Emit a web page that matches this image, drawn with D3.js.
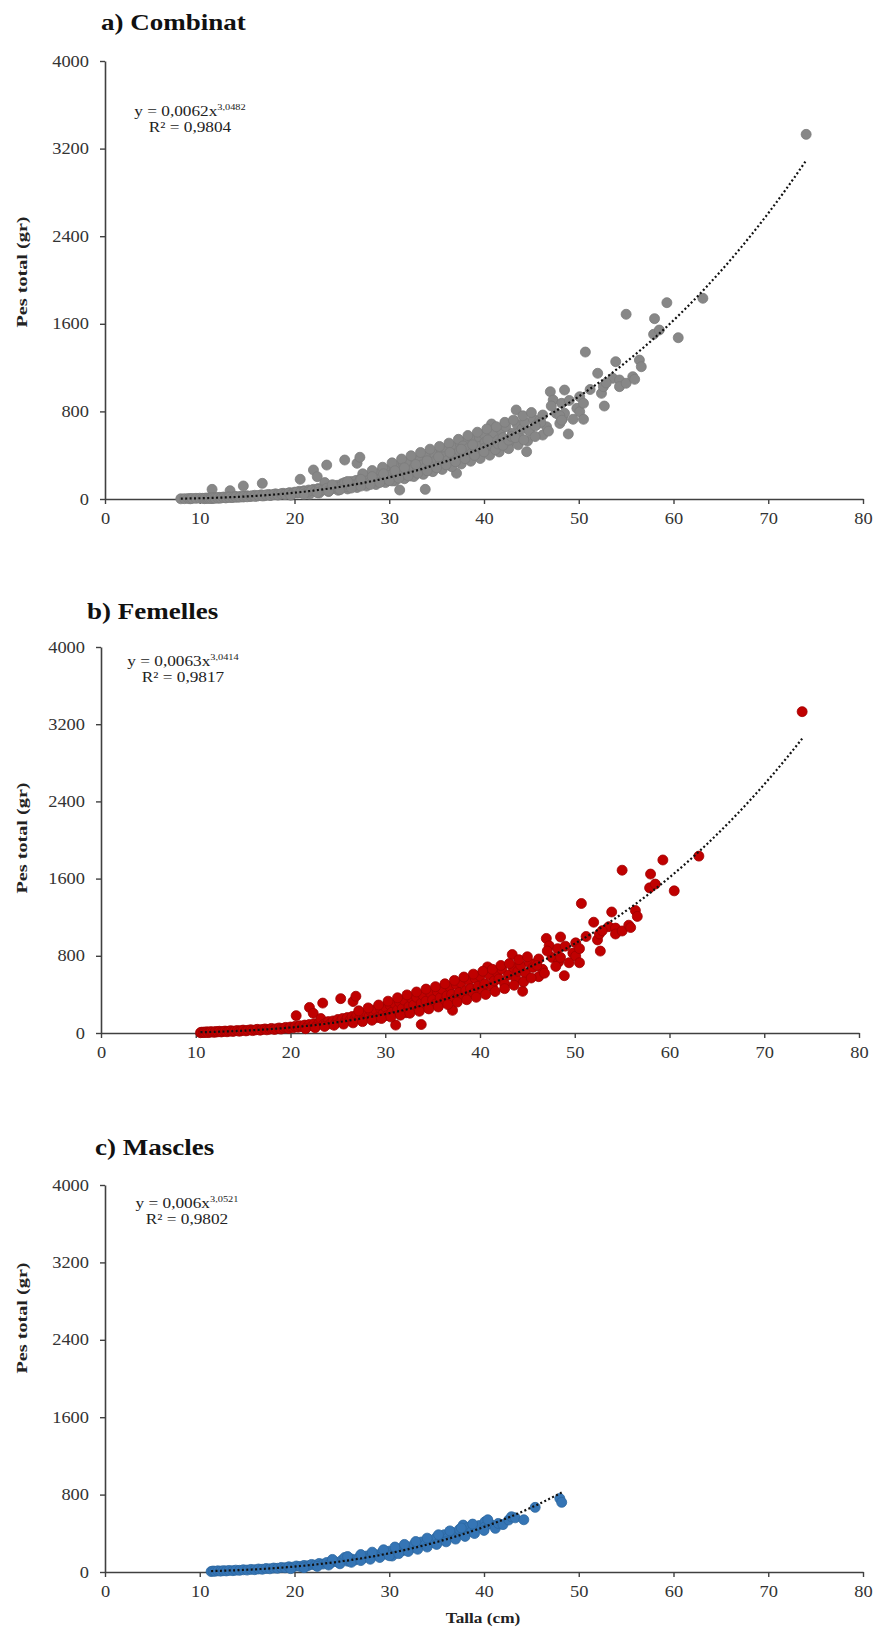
<!DOCTYPE html>
<html>
<head>
<meta charset="utf-8">
<script src="https://cdn.jsdelivr.net/npm/d3@7"></script>
<style>
  body { margin: 0; background: #fff; }
  svg { display: block; }
</style>
</head>
<body>
<svg id="chart" width="875" height="1630"></svg>
<script>
// axis ticks
const xTicks = [0, 10, 20, 30, 40, 50, 60, 70, 80];
const yTicks = [0, 800, 1600, 2400, 3200, 4000];

// [talla cm, pes g]
const females = [
  [10.5,3],[10.6,8],[10.8,5],[10.9,10],[11.0,6],[11.2,12],[11.3,4],[11.5,9],[11.6,14],[11.8,10],
  [12.0,7],[12.1,15],[12.3,12],[12.5,18],[12.7,11],[12.9,16],[13.1,20],[13.3,13],[13.5,19],[13.7,24],
  [13.9,16],[14.1,21],[14.4,26],[14.6,18],[14.8,24],[15.0,30],[15.3,22],[15.5,28],[15.8,34],[16.0,25],
  [16.3,32],[16.5,38],[16.8,29],[17.0,36],[17.3,42],[17.5,33],[17.8,40],[18.0,47],[18.3,37],[18.5,44],
  [18.8,52],[19.0,41],[19.3,50],[19.5,58],[19.8,47],[20.0,62],[20.3,54],[20.5,70],[20.6,180],[20.8,60],
  [21.0,75],[21.3,66],[21.5,82],[21.8,70],[22.0,265],[22.0,88],[22.3,75],[22.4,204],[22.5,95],[22.8,80],
  [23.0,100],[23.2,150],[23.4,310],[23.5,90],[23.8,108],[24.0,118],[24.2,95],[24.5,125],[24.8,105],[25.0,140],
  [25.3,356],[25.3,118],[25.5,150],[25.8,125],[26.0,160],[26.3,135],[26.6,326],[26.5,170],[26.9,381],[26.8,145],
  [27.0,185],[27.3,150],[27.5,195],[27.8,165],[28.0,210],[28.3,175],[28.5,225],[28.8,190],[29.0,240],[29.2,160],
  [29.5,255],[29.8,205],[30.0,270],[30.2,180],[30.5,290],[30.7,215],[31.0,305],[31.1,82],[31.3,240],[31.5,320],
  [31.8,255],[32.0,340],[32.2,210],[32.5,275],[32.8,355],[33.0,290],[33.3,370],[33.5,245],[33.8,88],[33.8,310],
  [34.0,390],[34.3,330],[34.5,260],[34.8,410],[35.0,345],[35.3,300],[35.5,430],[35.8,365],[36.0,455],[36.2,320],
  [36.5,385],[36.8,480],[37.0,400],[37.1,235],[37.3,350],[37.5,500],[37.8,420],[38.0,520],[38.3,380],[38.5,440],
  [38.8,545],[39.0,460],[39.3,410],[39.5,565],[39.8,485],[40.0,590],[40.3,440],[40.5,510],[40.8,685],[41.0,600],
  [41.3,480],[41.5,540],[41.8,630],[42.0,560],[42.3,660],[42.6,510],[43.0,600],[43.4,813],[43.5,680],[43.8,560],
  [44.0,640],[44.3,700],[44.5,432],[44.8,620],[45.2,730],[45.6,680],[45.9,721],[46.2,767],[46.2,584],[46.6,660],
  [47.0,980],[47.3,904],[47.6,783],[48.2,874],[48.3,737],[48.5,995],[48.5,783],[48.9,594],[49.4,728],[49.8,828],
  [50.1,934],[50.1,797],[50.5,874],[50.5,728],[50.7,1342],[52.0,1148],[52.4,965],[52.6,1026],[52.7,849],[53.6,1102],
  [53.9,1254],[54.3,1087],[54.3,1026],[55.0,1057],[55.0,1687],[55.7,1117],[55.9,1093],[56.4,1269],[56.6,1208],[57.9,1504],
  [58.0,1647],[58.5,1543],[59.3,1793],[60.5,1473],[63.1,1833],[74.0,3330],
  // lower and upper edge of the dense band
  [21.6,45],[22.6,55],[23.6,68],[24.6,80],[25.6,92],[26.6,105],[27.6,118],[28.6,132],[29.6,150],[30.6,165],
  [31.6,185],[32.6,205],[33.6,225],[34.6,250],[35.6,270],[36.6,295],[37.6,320],[38.6,345],[39.6,370],[40.6,400],
  [41.6,430],[42.6,460],[43.6,495],[44.6,530],[45.4,570],
  [27.2,230],[28.2,260],[29.3,290],[30.3,330],[31.3,365],[32.3,395],[33.3,425],[34.3,455],[35.3,480],[36.3,510],
  [37.3,545],[38.3,580],[39.3,610],[40.3,640],[41.3,660],[42.2,700],[43.1,720],[44.1,760],[45.0,790],[46.0,700],
  [47.1,850],[49.0,900],[51.2,1000],[52.9,1060],[46.8,620],[48.0,690]
];

const males = [
  [11.2,5],[11.4,10],[11.6,7],[11.9,12],[12.2,9],[12.5,14],[12.8,11],[13.1,16],[13.5,14],[13.8,19],
  [14.2,17],[14.6,23],[15.0,20],[15.4,27],[15.8,24],[16.2,31],[16.6,28],[17.0,36],[17.4,33],[17.8,41],
  [18.2,38],[18.6,47],[19.0,44],[19.4,54],[19.8,50],[20.2,62],[20.6,57],[21.0,68],[21.4,64],[21.8,78],
  [22.2,72],[22.6,88],[23.0,82],[23.4,98],[23.8,92],[24.2,108],[24.6,100],[25.0,122],[25.3,150],[25.6,112],
  [26.0,135],[26.4,125],[26.8,150],[27.2,140],[27.6,165],[28.0,155],[28.4,182],[28.8,170],[29.2,200],[29.6,185],
  [30.0,215],[30.3,165],[30.6,205],[31.0,240],[31.4,220],[31.8,262],[32.2,240],[32.6,285],[33.0,262],[33.4,310],
  [33.8,285],[34.2,335],[34.6,305],[35.0,360],[35.4,330],[35.8,385],[36.2,355],[36.6,410],[37.0,375],[37.4,440],
  [37.8,485],[37.9,400],[38.3,460],[38.7,420],[39.1,451],[39.5,480],[40.1,519],[40.1,467],[40.6,500],[41.2,451],
  [41.5,502],[42.0,490],[42.6,537],[42.9,571],[43.3,560],[44.2,540],[45.4,668],[48.0,760],[48.2,720],
  // edges of the band
  [19.6,35],[21.0,45],[22.4,58],[23.6,72],[24.8,85],[26.0,100],[27.0,118],[28.0,132],[29.0,150],[30.0,168],
  [31.0,190],[32.0,212],[33.0,235],[34.0,258],[35.0,285],[36.0,312],[37.0,340],[38.0,368],[39.0,398],[40.0,430],
  [24.0,130],[25.6,160],[27.0,180],[28.2,205],[29.4,230],[30.6,258],[31.6,285],[32.8,315],[34.0,350],[35.2,385],
  [36.4,425],[37.6,455],[38.8,495],[40.4,540]
];

// small fish without sex, only in the combined plot
const unsexed = [
  [8.0,2],[8.4,3],[8.8,4],[9.0,2],[9.2,5],[9.6,6],[10.0,7],[10.3,6],
  [11.3,88],[13.2,76],[14.6,119],[16.6,143]
];

const combined = unsexed.concat(females, males);

const SX = 1.15; // the source image is a little wider than tall

const panels = [
  { title: 'a) Combinat', pts: combined, a: 0.0062, b: 3.0482, eqA: '0,0062', eqB: '3,0482', r2: '0,9804',
    fill: '#878787', stroke: '#7c7c7c', left: 105, top: 61, bottom: 499, titleX: 101, titleY: 30,
    eqX: 190, eqY: 116, labY: 272 },
  { title: 'b) Femelles', pts: females, a: 0.0063, b: 3.0414, eqA: '0,0063', eqB: '3,0414', r2: '0,9817',
    fill: '#c00000', stroke: '#9e0000', left: 101, top: 647, bottom: 1033, titleX: 87, titleY: 619,
    eqX: 183, eqY: 666, labY: 838 },
  { title: 'c) Mascles', pts: males, a: 0.006, b: 3.0521, eqA: '0,006', eqB: '3,0521', r2: '0,9802',
    fill: '#3575b5', stroke: '#2c679f', left: 105, top: 1185, bottom: 1572, titleX: 95, titleY: 1155,
    eqX: 187, eqY: 1208, labY: 1318 }
];

const svg = d3.select('#chart');

function stretchText(sel, x, y) {
  return sel.attr('transform', `translate(${x},${y}) scale(${SX},1)`);
}

panels.forEach((p, i) => {
  const x = d3.scaleLinear().domain([0, 80]).range([p.left, p.left + 758]);
  const y = d3.scaleLinear().domain([0, 4000]).range([p.bottom, p.top]);
  const g = svg.append('g');

  // title
  stretchText(g.append('text'), p.titleX, p.titleY)
    .attr('font-family', '"Liberation Serif", "Times New Roman", serif')
    .attr('font-weight', 'bold')
    .attr('font-size', 23.5)
    .attr('fill', '#111')
    .text(p.title);

  // y axis
  const ya = g.append('g')
    .attr('transform', `translate(${p.left},0)`)
    .call(d3.axisLeft(y).tickValues(yTicks).tickSize(5).tickSizeOuter(0).tickPadding(11).tickFormat(d3.format('d')));
  ya.selectAll('text')
    .attr('font-family', '"Liberation Serif", serif')
    .attr('font-size', 16)
    .attr('fill', '#333')
    .attr('x', -16 / SX)
    .attr('transform', `scale(${SX},1)`);

  // x axis
  const xa = g.append('g')
    .attr('transform', `translate(0,${p.bottom})`)
    .call(d3.axisBottom(x).tickValues(xTicks).tickSize(5).tickSizeOuter(0).tickPadding(9));
  xa.selectAll('text')
    .attr('font-family', '"Liberation Serif", serif')
    .attr('font-size', 16)
    .attr('fill', '#333')
    .attr('transform', `scale(${SX},1)`);

  [ya, xa].forEach(a => {
    a.select('.domain').attr('stroke', '#404040').attr('stroke-width', 1.6);
    a.selectAll('.tick line').attr('stroke', '#404040').attr('stroke-width', 1.4);
  });

  // y label, drawn long and narrow like the source
  g.append('text')
    .attr('transform', `translate(22,${p.labY}) rotate(-90) scale(1.35,1)`)
    .attr('text-anchor', 'middle')
    .attr('dy', '0.35em')
    .attr('font-family', '"Liberation Serif", serif')
    .attr('font-weight', 'bold')
    .attr('font-size', 15)
    .attr('fill', '#222')
    .text('Pes total (gr)');

  // points
  g.append('g').selectAll('circle')
    .data(p.pts)
    .join('circle')
    .attr('cx', d => x(d[0]))
    .attr('cy', d => y(d[1]))
    .attr('r', 5)
    .attr('fill', p.fill)
    .attr('stroke', p.stroke)
    .attr('stroke-width', 0.8);

  // power trendline y = a x^b over the data range
  const ext = d3.extent(p.pts, d => d[0]);
  const xs = d3.range(ext[0], ext[1] + 0.01, 0.25);
  g.append('path')
    .datum(xs)
    .attr('fill', 'none')
    .attr('stroke', '#111')
    .attr('stroke-width', 2.2)
    .attr('stroke-dasharray', '2,2.4')
    .attr('d', d3.line().x(d => x(d)).y(d => y(p.a * Math.pow(d, p.b))));

  // equation
  const eq = stretchText(g.append('text'), p.eqX, p.eqY)
    .attr('text-anchor', 'middle')
    .attr('font-family', '"Liberation Serif", serif')
    .attr('font-size', 15)
    .attr('fill', '#222');
  eq.append('tspan').text('y = ' + p.eqA + 'x');
  eq.append('tspan').attr('font-size', 9).attr('dy', -6).text(p.eqB);

  const r2 = stretchText(g.append('text'), p.eqX, p.eqY + 16)
    .attr('text-anchor', 'middle')
    .attr('font-family', '"Liberation Serif", serif')
    .attr('font-size', 15)
    .attr('fill', '#222');
  r2.append('tspan').text('R² = ' + p.r2);

  if (i === panels.length - 1) {
    stretchText(g.append('text'), 483, 1623)
      .attr('text-anchor', 'middle')
      .attr('font-family', '"Liberation Serif", serif')
      .attr('font-weight', 'bold')
      .attr('font-size', 15)
      .attr('fill', '#222')
      .text('Talla (cm)');
  }
});
</script>
</body>
</html>
